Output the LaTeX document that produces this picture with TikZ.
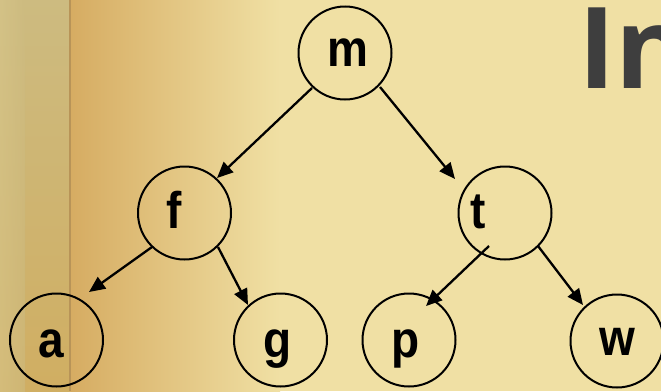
\documentclass[tikz,border=0pt]{standalone}
\usepackage{fontspec}
\setmainfont{Liberation Sans}
\newfontfamily\titlefont{Open Sans}
\usetikzlibrary{arrows.meta}
\definecolor{parch}{HTML}{F0E0A4}
\definecolor{leftstrip}{HTML}{CDBB80}
\definecolor{leftstripb}{HTML}{D0AE62}
\definecolor{brownedge}{HTML}{D6AC62}
\definecolor{foldline}{HTML}{B89458}
\definecolor{titlegray}{HTML}{3E3E3E}
\begin{document}
\begin{tikzpicture}[x=1pt,y=1pt,
  vert/.style={circle,draw=black,line width=2pt,minimum size=93pt,inner sep=0pt,outer sep=0pt},
  lett/.style={anchor=base,inner sep=0pt,font=\fontsize{46}{46}\selectfont\bfseries},
  edge/.style={line width=2.3pt,-{Triangle[length=16pt,width=14pt]}}]
\useasboundingbox (0,0) rectangle (661,-391);
\fill[parch] (0,0) rectangle (661,-391);
\shade[left color=brownedge, right color=parch] (70,0) rectangle (280,-391);
\shade[top color=leftstrip, bottom color=leftstripb] (0,0) rectangle (70,-391);
\shade[left color=leftstrip!70!parch, right color=leftstrip, opacity=0.6] (0,0) rectangle (25,-391);
\draw[foldline, line width=1.5pt] (70,0) -- (70,-391);

\node[anchor=base west,inner sep=0pt,text=titlegray,font=\titlefont\bfseries\fontsize{113}{113}\selectfont] (title) at (578,-88) {In};

\node[vert] (m) at (345,-53) {};
\node[vert] (f) at (184.5,-213) {};
\node[vert] (t) at (505,-213) {};
\node[vert] (a) at (56.5,-340) {};
\node[vert] (g) at (280.5,-340) {};
\node[vert] (p) at (409,-340) {};
\node[vert] (w) at (617,-341) {};

\node[lett] (lm) at (348,-66) {\scalebox{1}[1.12]{m}};
\node[lett] (lf) at (174.5,-228) {\scalebox{1}[1.12]{f}};
\node[lett] (lt) at (478.5,-228) {\scalebox{1}[1.12]{t}};
\node[lett] (la) at (51.7,-357) {\scalebox{1}[1.12]{a}};
\node[lett] (lg) at (277.5,-357) {\scalebox{1}[1.12]{g}};
\node[lett] (lp) at (405.5,-357) {\scalebox{1}[1.12]{p}};
\node[lett] (lw) at (617.5,-355) {\scalebox{1}[1.12]{w}};

\draw[edge] ([shift={(-33,-35)}]m.center) -- ([shift={(32.5,35)}]f.center);
\draw[edge] ([shift={(35,-34)}]m.center) -- ([shift={(-50,34)}]t.center);
\draw[edge] ([shift={(-32.5,-34)}]f.center) -- ([shift={(32.5,48)}]a.center);
\draw[edge] ([shift={(33.5,-34)}]f.center) -- ([shift={(-32.5,35)}]g.center);
\draw[edge] ([shift={(-16,-33)}]t.center) -- ([shift={(17,34)}]p.center);
\draw[edge] ([shift={(33,-33)}]t.center) -- ([shift={(-34,36)}]w.center);
\end{tikzpicture}
\end{document}
